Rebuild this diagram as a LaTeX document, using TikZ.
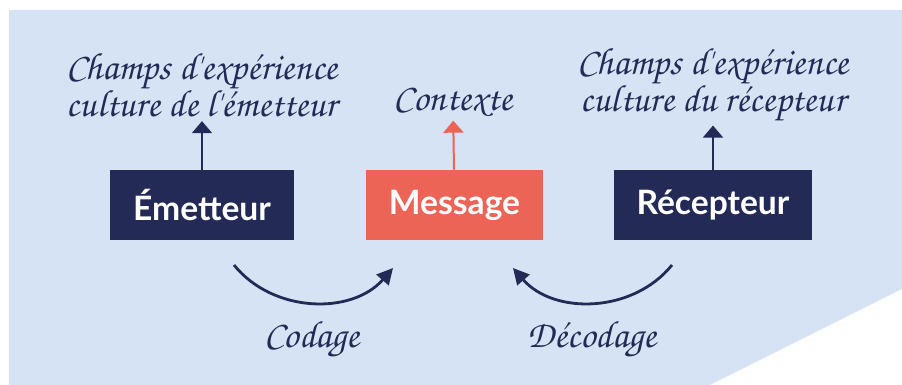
\documentclass[tikz,border=0pt]{standalone}
\usepackage{fontspec}
\setmainfont{Lato}
\newfontfamily\ecriture{TeX Gyre Chorus}
\usetikzlibrary{arrows.meta,%
		positioning}
\definecolor{navy}{RGB}{35,42,86}
\definecolor{corail}{RGB}{236,100,86}
\definecolor{fond}{RGB}{214,227,245}
\tikzset{
  boite/.style={minimum width=92pt,minimum height=35pt,inner sep=0pt,text=white,
    font=\fontsize{16.8}{18}\selectfont\bfseries},
  manuscrit/.style={text=navy,align=center,inner sep=2pt,
    font=\ecriture\fontsize{19}{15.5}\selectfont},
  fleche/.style={-{Triangle[length=6pt,width=10pt]},line width=1pt},
  courbe/.style={-{Triangle[length=8pt,width=8pt]},line width=1.4pt,navy},
}

\begin{document}
\begin{tikzpicture}[x=0.5pt,y=0.5pt]
  \useasboundingbox (0,0) rectangle (902,385);
  \fill[fond] (9,0) -- (710,0) -- (902,96) -- (902,375) -- (9,375) -- cycle; %fond
  \node[boite,fill=navy] (emet) at (202,180) {Émetteur};
  \node[boite,fill=corail,minimum width=88.5pt] (mess) at (454.5,180) {Message};
  \node[boite,fill=navy,minimum width=99pt] (recep) at (713,180) {Récepteur};
  \node[manuscrit] (champsE) at (202,300) {Champs d'expérience\\culture de l'émetteur};
  \node[manuscrit] (ctx) at (453,283) {Contexte};
  \node[manuscrit] (champsR) at (713,300) {Champs d'expérience\\culture du récepteur};
  \draw[fleche,navy] (emet) -- (champsE);
  \draw[fleche,corail] (mess) -- (ctx);
  \draw[fleche,navy] (recep) -- (champsR);
  \coordinate (c1) at (234,120);
  \coordinate (c2) at (393,117);
  \coordinate (d1) at (672,120);
  \coordinate (d2) at (513,117);
  \draw[courbe] (c1) to[bend right=50] (c2); %codage
  \draw[courbe] (d1) to[bend left=50] (d2); %decodage
  \node[manuscrit,anchor=base] (cod) at (312,37) {Codage};
  \node[manuscrit,anchor=base] (decod) at (592,37) {Décodage};
\end{tikzpicture}
\end{document}
